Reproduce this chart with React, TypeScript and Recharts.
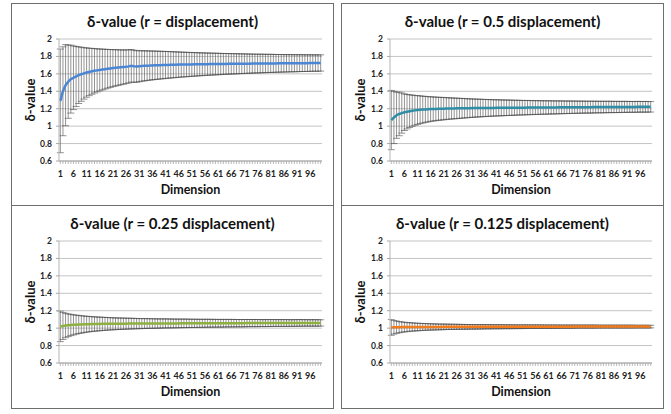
import React from 'react';
import { ComposedChart, Line, XAxis, YAxis, CartesianGrid, ErrorBar } from 'recharts';

const dimensions = [
  1, 2, 3, 4, 5, 6, 7, 8, 9, 10,
  11, 12, 13, 14, 15, 16, 17, 18, 19, 20,
  21, 22, 23, 24, 25, 26, 27, 28, 29, 30,
  31, 32, 33, 34, 35, 36, 37, 38, 39, 40,
  41, 42, 43, 44, 45, 46, 47, 48, 49, 50,
  51, 52, 53, 54, 55, 56, 57, 58, 59, 60,
  61, 62, 63, 64, 65, 66, 67, 68, 69, 70,
  71, 72, 73, 74, 75, 76, 77, 78, 79, 80,
  81, 82, 83, 84, 85, 86, 87, 88, 89, 90,
  91, 92, 93, 94, 95, 96, 97, 98, 99, 100,
];

const xLabelDims = [1, 6, 11, 16, 21, 26, 31, 36, 41, 46, 51, 56, 61, 66, 71, 76, 81, 86, 91, 96];
const yTicks = [0.6, 0.8, 1, 1.2, 1.4, 1.6, 1.8, 2];

// r = displacement
const meanFull = [
  1.29, 1.40, 1.47, 1.51, 1.54, 1.555, 1.57, 1.585, 1.595, 1.605,
  1.615, 1.622, 1.629, 1.635, 1.64, 1.645, 1.65, 1.654, 1.658, 1.662,
  1.666, 1.669, 1.672, 1.675, 1.678, 1.681, 1.686, 1.692, 1.687, 1.685,
  1.688, 1.69, 1.692, 1.694, 1.695, 1.697, 1.698, 1.699, 1.70, 1.701,
  1.702, 1.703, 1.704, 1.704, 1.705, 1.706, 1.706, 1.707, 1.707, 1.708,
  1.708, 1.709, 1.709, 1.71, 1.71, 1.711, 1.711, 1.712, 1.712, 1.713,
  1.713, 1.713, 1.714, 1.714, 1.715, 1.715, 1.715, 1.716, 1.716, 1.716,
  1.717, 1.717, 1.717, 1.718, 1.718, 1.718, 1.719, 1.719, 1.719, 1.72,
  1.72, 1.72, 1.72, 1.721, 1.721, 1.721, 1.721, 1.722, 1.722, 1.722,
  1.722, 1.723, 1.723, 1.723, 1.723, 1.724, 1.724, 1.724, 1.724, 1.725,
];
const sdFull = [
  0.595, 0.51, 0.465, 0.42, 0.39, 0.365, 0.345, 0.325, 0.31, 0.295,
  0.283, 0.272, 0.263, 0.255, 0.247, 0.24, 0.234, 0.228, 0.222, 0.217,
  0.212, 0.208, 0.204, 0.2, 0.196, 0.193, 0.19, 0.187, 0.184, 0.181,
  0.178, 0.175, 0.172, 0.17, 0.167, 0.165, 0.163, 0.161, 0.159, 0.157,
  0.155, 0.153, 0.151, 0.149, 0.147, 0.145, 0.143, 0.141, 0.14, 0.138,
  0.136, 0.135, 0.133, 0.132, 0.13, 0.129, 0.128, 0.126, 0.125, 0.124,
  0.123, 0.121, 0.12, 0.119, 0.118, 0.117, 0.116, 0.115, 0.114, 0.113,
  0.112, 0.111, 0.11, 0.109, 0.108, 0.107, 0.107, 0.106, 0.105, 0.104,
  0.104, 0.103, 0.102, 0.101, 0.101, 0.1, 0.099, 0.099, 0.098, 0.098,
  0.097, 0.097, 0.096, 0.096, 0.095, 0.095, 0.094, 0.094, 0.094, 0.093,
];

// r = 0.5 displacement
const meanHalf = [
  1.07, 1.10, 1.125, 1.14, 1.15, 1.16, 1.166, 1.172, 1.177, 1.181,
  1.185, 1.188, 1.19, 1.192, 1.194, 1.196, 1.197, 1.198, 1.199, 1.20,
  1.201, 1.202, 1.202, 1.203, 1.203, 1.204, 1.204, 1.205, 1.205, 1.206,
  1.206, 1.207, 1.207, 1.207, 1.208, 1.208, 1.208, 1.209, 1.209, 1.209,
  1.21, 1.21, 1.21, 1.21, 1.211, 1.211, 1.211, 1.211, 1.212, 1.212,
  1.212, 1.212, 1.213, 1.213, 1.213, 1.213, 1.214, 1.214, 1.214, 1.214,
  1.215, 1.215, 1.215, 1.215, 1.216, 1.216, 1.216, 1.216, 1.217, 1.217,
  1.217, 1.217, 1.218, 1.218, 1.218, 1.218, 1.218, 1.219, 1.219, 1.219,
  1.219, 1.219, 1.22, 1.22, 1.22, 1.22, 1.22, 1.22, 1.221, 1.221,
  1.221, 1.221, 1.221, 1.221, 1.222, 1.222, 1.222, 1.222, 1.222, 1.222,
];
const sdHalf = [
  0.34, 0.30, 0.265, 0.25, 0.23, 0.21, 0.198, 0.188, 0.179, 0.171,
  0.165, 0.159, 0.154, 0.149, 0.145, 0.141, 0.138, 0.135, 0.132, 0.13,
  0.128, 0.125, 0.123, 0.121, 0.119, 0.117, 0.115, 0.113, 0.111, 0.109,
  0.107, 0.105, 0.104, 0.102, 0.101, 0.099, 0.098, 0.097, 0.095, 0.094,
  0.093, 0.092, 0.091, 0.09, 0.089, 0.088, 0.087, 0.086, 0.085, 0.084,
  0.083, 0.082, 0.082, 0.081, 0.08, 0.079, 0.079, 0.078, 0.077, 0.077,
  0.076, 0.075, 0.075, 0.074, 0.074, 0.073, 0.072, 0.072, 0.071, 0.071,
  0.07, 0.07, 0.069, 0.069, 0.068, 0.068, 0.068, 0.067, 0.067, 0.066,
  0.066, 0.066, 0.065, 0.065, 0.065, 0.064, 0.064, 0.064, 0.063, 0.063,
  0.063, 0.062, 0.062, 0.062, 0.062, 0.061, 0.061, 0.061, 0.061, 0.06,
];

// r = 0.25 displacement
const meanQuarter = [
  1.02, 1.025, 1.03, 1.033, 1.036, 1.038, 1.04, 1.042, 1.043, 1.044,
  1.045, 1.046, 1.047, 1.047, 1.048, 1.048, 1.049, 1.049, 1.05, 1.05,
  1.05, 1.05, 1.051, 1.051, 1.051, 1.051, 1.052, 1.052, 1.052, 1.052,
  1.052, 1.052, 1.053, 1.053, 1.053, 1.053, 1.053, 1.053, 1.053, 1.054,
  1.054, 1.054, 1.054, 1.054, 1.054, 1.054, 1.055, 1.055, 1.055, 1.055,
  1.055, 1.055, 1.055, 1.055, 1.055, 1.056, 1.056, 1.056, 1.056, 1.056,
  1.056, 1.056, 1.056, 1.057, 1.057, 1.057, 1.057, 1.057, 1.057, 1.057,
  1.057, 1.058, 1.058, 1.058, 1.058, 1.058, 1.058, 1.058, 1.058, 1.058,
  1.059, 1.059, 1.059, 1.059, 1.059, 1.059, 1.059, 1.059, 1.059, 1.059,
  1.06, 1.06, 1.06, 1.06, 1.06, 1.06, 1.06, 1.06, 1.06, 1.06,
];
const sdQuarter = [
  0.175, 0.155, 0.14, 0.13, 0.122, 0.115, 0.109, 0.104, 0.099, 0.095,
  0.091, 0.088, 0.085, 0.082, 0.08, 0.078, 0.076, 0.074, 0.072, 0.07,
  0.069, 0.067, 0.066, 0.065, 0.064, 0.063, 0.062, 0.061, 0.06, 0.059,
  0.058, 0.057, 0.057, 0.056, 0.055, 0.055, 0.054, 0.053, 0.053, 0.052,
  0.052, 0.051, 0.051, 0.05, 0.05, 0.049, 0.049, 0.049, 0.048, 0.048,
  0.047, 0.047, 0.047, 0.046, 0.046, 0.046, 0.045, 0.045, 0.045, 0.044,
  0.044, 0.044, 0.044, 0.043, 0.043, 0.043, 0.043, 0.042, 0.042, 0.042,
  0.042, 0.041, 0.041, 0.041, 0.041, 0.041, 0.04, 0.04, 0.04, 0.04,
  0.04, 0.039, 0.039, 0.039, 0.039, 0.039, 0.039, 0.038, 0.038, 0.038,
  0.038, 0.038, 0.038, 0.037, 0.037, 0.037, 0.037, 0.037, 0.037, 0.036,
];

// r = 0.125 displacement
const meanEighth = [
  1.008, 1.01, 1.011, 1.011, 1.012, 1.012, 1.012, 1.013, 1.013, 1.013,
  1.013, 1.013, 1.014, 1.014, 1.014, 1.014, 1.014, 1.014, 1.014, 1.014,
  1.015, 1.015, 1.015, 1.015, 1.015, 1.015, 1.015, 1.015, 1.015, 1.015,
  1.015, 1.015, 1.015, 1.015, 1.015, 1.016, 1.016, 1.016, 1.016, 1.016,
  1.016, 1.016, 1.016, 1.016, 1.016, 1.016, 1.016, 1.016, 1.016, 1.016,
  1.016, 1.017, 1.017, 1.017, 1.017, 1.017, 1.017, 1.017, 1.017, 1.017,
  1.017, 1.017, 1.017, 1.017, 1.017, 1.017, 1.017, 1.017, 1.017, 1.017,
  1.018, 1.018, 1.018, 1.018, 1.018, 1.018, 1.018, 1.018, 1.018, 1.018,
  1.018, 1.018, 1.018, 1.018, 1.018, 1.018, 1.018, 1.018, 1.018, 1.018,
  1.018, 1.018, 1.018, 1.018, 1.018, 1.018, 1.018, 1.018, 1.018, 1.018,
];
const sdEighth = [
  0.09, 0.078, 0.07, 0.064, 0.059, 0.055, 0.052, 0.049, 0.047, 0.045,
  0.043, 0.041, 0.04, 0.038, 0.037, 0.036, 0.035, 0.034, 0.033, 0.032,
  0.032, 0.031, 0.03, 0.03, 0.029, 0.029, 0.028, 0.028, 0.027, 0.027,
  0.026, 0.026, 0.026, 0.025, 0.025, 0.025, 0.024, 0.024, 0.024, 0.023,
  0.023, 0.023, 0.023, 0.022, 0.022, 0.022, 0.022, 0.021, 0.021, 0.021,
  0.021, 0.021, 0.02, 0.02, 0.02, 0.02, 0.02, 0.02, 0.019, 0.019,
  0.019, 0.019, 0.019, 0.019, 0.018, 0.018, 0.018, 0.018, 0.018, 0.018,
  0.018, 0.017, 0.017, 0.017, 0.017, 0.017, 0.017, 0.017, 0.017, 0.016,
  0.016, 0.016, 0.016, 0.016, 0.016, 0.016, 0.016, 0.016, 0.016, 0.016,
  0.016, 0.016, 0.016, 0.015, 0.015, 0.015, 0.015, 0.015, 0.015, 0.015,
];

const FONT = 'Lato, "Open Sans", sans-serif';

const buildData = (mean: number[], sd: number[]) =>
  dimensions.map((d, i) => ({ dim: d, mean: mean[i], sd: sd[i] }));

const XTick = (props: any) => {
  const { x, y, payload } = props;
  if (!xLabelDims.includes(payload.value)) return <g />;
  return (
    <text x={x} y={y} dy="0.71em" textAnchor="middle" fontSize={9} fontWeight={700} fill="#222" fontFamily={FONT}>
      {payload.value}
    </text>
  );
};

type PanelProps = {
  title: string;
  mean: number[];
  sd: number[];
  color: string;
  left: number;
  top: number;
  height: number;
  yAxisWidth: number;
};

const Panel = ({ title, mean, sd, color, left, top, height, yAxisWidth }: PanelProps) => {
  const width = 323;
  const data = buildData(mean, sd);
  const plotTop = 36;
  const plotBottom = 158;
  return (
    <div style={{ position: 'absolute', left, top, width, height, boxSizing: 'border-box', border: '1px solid #6e6e6e' }}>
      <div style={{ position: 'absolute', left: -1, top: -1, width, height }}>
        <div
          style={{
            position: 'absolute', left: 0, top: 9, width, textAlign: 'center',
            fontFamily: FONT, fontWeight: 700, fontSize: 15, color: '#111', lineHeight: '18px',
          }}
        >
          {title}
        </div>
        <div
          style={{
            position: 'absolute', left: 19 - 40, top: (plotTop + plotBottom) / 2 - 8, width: 80, height: 16,
            transform: 'rotate(-90deg)', textAlign: 'center', lineHeight: '16px',
            fontFamily: FONT, fontWeight: 700, fontSize: 13, color: '#111',
          }}
        >
          δ-value
        </div>
        <div
          style={{
            position: 'absolute', left: yAxisWidth, top: plotBottom + 21, width: width - yAxisWidth - 12,
            textAlign: 'center', lineHeight: '16px', fontFamily: FONT, fontWeight: 700, fontSize: 12.5, color: '#111',
          }}
        >
          Dimension
        </div>
        <div style={{ position: 'absolute', left: 0, top: 0 }}>
          <ComposedChart
            width={width}
            height={height}
            data={data}
            margin={{ top: plotTop, right: 12, left: 0, bottom: 0 }}
          >
            <CartesianGrid horizontal vertical={false} stroke="#c4c4c4" strokeWidth={1} />
            <XAxis
              dataKey="dim"
              type="category"
              scale="band"
              interval={0}
              height={height - plotBottom}
              tick={<XTick />}
              tickSize={3}
              tickMargin={7}
              tickLine={{ stroke: '#a8a8a8', strokeWidth: 0.8 }}
              axisLine={{ stroke: '#a8a8a8' }}
            />
            <YAxis
              type="number"
              domain={[0.6, 2]}
              ticks={yTicks}
              interval={0}
              width={yAxisWidth}
              tickSize={3}
              tickMargin={4}
              tickLine={{ stroke: '#a8a8a8' }}
              axisLine={{ stroke: '#b4b4b4' }}
              tick={{ fontSize: 8.5, fontWeight: 700, fill: '#222', fontFamily: FONT }}
            />
            <Line dataKey="mean" stroke="none" dot={false} isAnimationActive={false}>
              <ErrorBar dataKey="sd" width={3.5} stroke="#4a4a4a" strokeWidth={0.6} isAnimationActive={false} />
            </Line>
            <Line dataKey="mean" stroke={color} strokeWidth={2.5} dot={false} isAnimationActive={false} />
          </ComposedChart>
        </div>
      </div>
    </div>
  );
};

export default function App() {
  return (
    <div style={{ position: 'absolute', left: 0, top: 0, width: 671, height: 414, background: '#fff' }}>
      <Panel title="δ-value (r = displacement)" mean={meanFull} sd={sdFull} color="#4a86d4" left={11} top={3} height={203} yAxisWidth={48} />
      <Panel title="δ-value (r = 0.5 displacement)" mean={meanHalf} sd={sdHalf} color="#2f8ea6" left={341} top={3} height={203} yAxisWidth={49} />
      <Panel title="δ-value (r = 0.25 displacement)" mean={meanQuarter} sd={sdQuarter} color="#8db03f" left={11} top={205} height={204} yAxisWidth={48} />
      <Panel title="δ-value (r = 0.125 displacement)" mean={meanEighth} sd={sdEighth} color="#f07c1e" left={341} top={205} height={204} yAxisWidth={49} />
    </div>
  );
}
